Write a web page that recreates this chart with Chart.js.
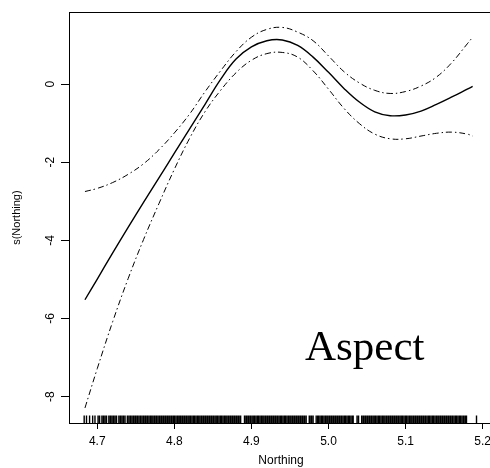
<!DOCTYPE html>
<html>
<head>
<meta charset="utf-8">
<script src="https://cdn.jsdelivr.net/npm/chart.js@4"></script>
<style>
html,body{margin:0;padding:0;background:#fff;overflow:hidden;width:490px;height:468px;}
canvas{display:block;}
</style>
</head>
<body>
<canvas id="c" width="500" height="468"></canvas>
<script>
// ---- data ----
const xGrid  = [4.684,4.70,4.72,4.74,4.76,4.78,4.80,4.82,4.84,4.86,4.88,4.90,4.92,4.94,4.96,4.98,5.00,5.02,5.04,5.06,5.08,5.10,5.12,5.14,5.16,5.18,5.187];
const fitY   = [-5.52,-4.99,-4.32,-3.67,-3.03,-2.40,-1.77,-1.14,-0.51,0.12,0.64,0.95,1.11,1.13,0.99,0.69,0.30,-0.11,-0.46,-0.71,-0.81,-0.79,-0.69,-0.52,-0.33,-0.13,-0.06];
const upperY = [-2.75,-2.67,-2.52,-2.31,-2.04,-1.68,-1.25,-0.76,-0.19,0.34,0.83,1.20,1.40,1.45,1.33,1.11,0.72,0.32,0.03,-0.16,-0.24,-0.19,-0.05,0.18,0.55,1.03,1.20];
const lowerY = [-8.29,-7.28,-6.08,-4.98,-3.98,-3.06,-2.18,-1.38,-0.70,-0.16,0.29,0.61,0.78,0.81,0.69,0.34,-0.13,-0.62,-1.01,-1.28,-1.40,-1.40,-1.33,-1.26,-1.23,-1.28,-1.33];
const xTicks = [4.7,4.8,4.9,5.0,5.1,5.2];
const yTicks = [-8,-6,-4,-2,0];
const rugX = [
4.683,4.686,4.690,4.694,4.697,4.701,4.703,4.706,4.708,
4.710,4.712,4.715,4.717,4.719,4.721,4.723,4.725,4.728,
4.730,4.732,4.734,4.736,4.739,4.741,4.743,4.745,4.747,4.749,
4.750,4.752,4.754,4.756,4.758,4.760,4.762,4.763,4.765,4.767,4.769,
4.770,4.772,4.774,4.776,4.777,4.779,4.781,4.783,4.784,4.786,4.788,4.789,
4.791,4.792,4.794,4.796,4.797,4.799,4.800,4.802,4.804,4.805,4.807,4.808,
4.810,4.811,4.813,4.815,4.816,4.818,4.820,4.821,4.823,4.825,4.826,4.828,
4.830,4.831,4.833,4.835,4.836,4.838,4.840,4.841,4.843,4.845,4.846,4.848,
4.850,4.851,4.853,4.855,4.856,4.858,4.860,4.861,4.863,4.865,4.866,4.868,
4.870,4.871,4.873,4.875,4.876,4.878,4.880,4.881,4.883,4.885,4.886,
4.891,4.893,4.894,4.896,4.898,4.899,
4.901,4.903,4.904,4.906,4.908,4.909,4.911,4.913,4.914,4.916,4.918,4.919,
4.921,4.923,4.924,4.926,4.928,4.929,4.931,4.933,4.934,4.936,4.938,4.939,
4.941,4.943,4.944,4.946,4.948,4.949,4.951,4.953,4.954,4.956,4.958,4.959,
4.961,4.963,4.964,4.966,4.968,4.969,4.971,
4.975,4.976,4.978,4.980,
4.984,4.986,4.987,4.989,4.991,4.992,4.994,4.996,4.997,4.999,
5.001,5.002,5.004,5.006,5.007,5.009,5.011,5.012,5.014,5.016,5.017,5.019,
5.021,5.022,5.024,5.026,5.027,5.029,5.031,5.032,
5.037,5.039,
5.043,5.045,5.046,5.048,5.050,5.051,5.053,5.055,5.056,5.058,
5.060,5.061,5.063,5.065,5.066,5.068,5.070,5.071,5.073,5.075,5.076,5.078,
5.080,5.081,5.083,5.085,5.086,5.088,5.090,5.091,5.093,5.095,5.096,5.098,
5.100,5.101,5.103,5.105,5.106,5.108,5.110,5.111,5.113,5.115,5.116,5.118,
5.120,5.121,5.123,5.125,5.126,5.128,5.130,5.131,5.133,5.135,5.136,5.138,
5.140,5.141,5.143,5.145,5.146,5.148,5.150,5.151,5.153,5.155,5.156,5.158,
5.160,5.161,5.163,5.165,5.166,5.168,5.170,5.171,5.173,5.175,5.176,5.178,5.179,
5.192];
const panelLabel = "Aspect";
const panelLabelPos = {x: 5.047, y: -7.05};
const xTitle = "Northing";
const yTitle = "s(Northing)";
const xRange = [4.6633, 5.2134];
const yRange = [-8.675, 1.84];

const pts = (ys) => xGrid.map((x,i)=>({x, y: ys[i]}));

const overlay = {
  id: 'overlay',
  afterDatasetsDraw(chart){
    const ctx = chart.ctx, xs = chart.scales.x, ys = chart.scales.y, ca = chart.chartArea;
    ctx.save();
    // rug
    ctx.strokeStyle = '#000'; ctx.lineWidth = 1.4;
    ctx.beginPath();
    rugX.forEach(v=>{
      const px = xs.getPixelForValue(v);
      ctx.moveTo(px, ca.bottom); ctx.lineTo(px, ca.bottom - 7.5);
    });
    ctx.stroke();
    // panel label
    ctx.fillStyle = '#000';
    ctx.font = '43px "Liberation Serif", "Times New Roman", serif';
    ctx.textAlign = 'center'; ctx.textBaseline = 'alphabetic';
    ctx.fillText(panelLabel, xs.getPixelForValue(panelLabelPos.x), ys.getPixelForValue(panelLabelPos.y));
    // box
    ctx.lineWidth = 1;
    ctx.strokeRect(Math.round(ca.left)+0.5, Math.round(ca.top)+0.5, Math.round(ca.right-ca.left), Math.round(ca.bottom-ca.top));
    ctx.restore();
  }
};

const band = (data) => ({
  data, showLine: true, pointRadius: 0, borderColor: '#000', borderWidth: 1,
  borderDash: [6,3,1.5,3], tension: 0.4, fill: false
});

new Chart(document.getElementById('c'), {
  type: 'scatter',
  data: {
    datasets: [
      {data: pts(fitY), showLine: true, pointRadius: 0, borderColor: '#000', borderWidth: 1.4, tension: 0.4, fill: false},
      band(pts(upperY)),
      band(pts(lowerY))
    ]
  },
  options: {
    responsive: false, animation: false, devicePixelRatio: 1,
    layout: {padding: {top: 9, right: 7, left: 0, bottom: 0}},
    plugins: {legend: {display: false}, tooltip: {enabled: false}},
    scales: {
      x: {
        type: 'linear', min: xRange[0], max: xRange[1],
        afterBuildTicks: s => { s.ticks = xTicks.map(v=>({value: v})); },
        afterFit: s => { s.height = 45; },
        grid: {drawOnChartArea: false, drawTicks: true, tickLength: 6, color: '#000', lineWidth: 1},
        border: {display: true, color: '#000', width: 1},
        ticks: {color: '#000', padding: 5, maxRotation: 0, font: {family: '"Liberation Sans", Arial, sans-serif', size: 12},
                callback: v => v.toFixed(1)},
        title: {display: true, text: xTitle, color: '#000', font: {family: '"Liberation Sans", Arial, sans-serif', size: 12}, padding: {top: 0, bottom: 0}}
      },
      y: {
        type: 'linear', min: yRange[0], max: yRange[1],
        afterBuildTicks: s => { s.ticks = yTicks.map(v=>({value: v})); },
        afterFit: s => { s.width = 69; },
        grid: {drawOnChartArea: false, drawTicks: true, tickLength: 8, color: '#000', lineWidth: 1},
        border: {display: true, color: '#000', width: 1},
        ticks: {color: '#000', padding: 5, minRotation: 90, maxRotation: 90, crossAlign: 'center',
                font: {family: '"Liberation Sans", Arial, sans-serif', size: 12},
                callback: v => String(v)},
        title: {display: true, text: yTitle, color: '#000', font: {family: '"Liberation Sans", Arial, sans-serif', size: 11}, padding: {top: 10, bottom: 0}}
      }
    }
  },
  plugins: [overlay]
});
</script>
</body>
</html>
